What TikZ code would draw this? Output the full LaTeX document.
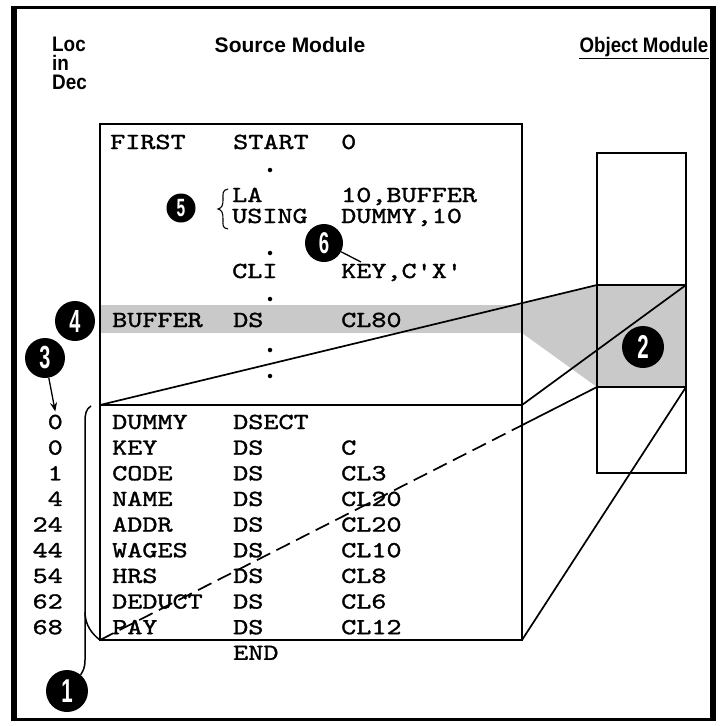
\documentclass[tikz,border=0pt]{standalone}
\usepackage{fontspec}
\setmainfont{Liberation Sans}
\setmonofont[FakeBold=1.2]{lmmono10-regular.otf}
\usepackage{graphicx}
\usetikzlibrary{arrows.meta}
\newcommand{\mt}[1]{\scalebox{1.25}[1]{\fontsize{23}{23}\selectfont\ttfamily #1}}
\newcommand{\cdig}[2]{\scalebox{0.62}[1]{\fontsize{#2}{#2}\selectfont\bfseries #1}}
\newcommand{\hd}[1]{\scalebox{0.9}[1]{#1}}
\begin{document}
\begin{tikzpicture}[x=1pt,y=-1pt,
  code/.style={anchor=base west, inner sep=0pt},
  num/.style={anchor=base east, inner sep=0pt},
  hdr/.style={inner sep=0pt, font=\fontsize{21}{18.5}\selectfont\bfseries},
  circ/.style={circle, fill=black, text=white, inner sep=0pt, minimum size=#1},
  dotn/.style={circle, fill=black, inner sep=0pt, minimum size=4.5pt},
  shade/.style={fill=black!21},
  boxline/.style={line width=2.6pt},
  conn/.style={line width=1.7pt},
  thinl/.style={line width=1.3pt}]
\useasboundingbox (0,0) rectangle (724,726);
\fill[white] (0,0) rectangle (724,726);

% key coordinates
\coordinate (sTL) at (100,124);
\coordinate (sdivL) at (100,405);
\coordinate (sdivR) at (522,405);
\coordinate (sBL) at (100,640);
\coordinate (sBR) at (522,640);
\coordinate (oTL) at (597,153);
\coordinate (oBR) at (686,473);
\coordinate (oShTL) at (597,285);
\coordinate (oShTR) at (686,285);
\coordinate (oShBL) at (597,387);
\coordinate (oShBR) at (686,387);
\coordinate (dx) at (522,425.2);

% shading
\fill[shade] (100,305) rectangle (522,333);
\fill[shade] (522,303) -- (oShTL) -- (oShBL) -- (522,333) -- cycle;
\fill[shade] (oShTL) rectangle (oShBR);

% frame
\draw[line width=3pt] (14,7) rectangle (713,719);
\draw[line width=6pt] (14,5.5) -- (14,720.5);
\draw[line width=6pt] (713,5.5) -- (713,720.5);

% headers
\node[hdr, anchor=base west] (loc) at (52,51) {\hd{Loc}};
\node[hdr, anchor=base west] (in) at (52,70) {\hd{in}};
\node[hdr, anchor=base west] (dec) at (52,89) {\hd{Dec}};
\node[hdr, anchor=base] (src) at (290,52) {Source Module};
\node[hdr, anchor=base] (obj) at (644,52) {\scalebox{0.89}[1]{Object Module}};
\draw[line width=1.3pt] ([yshift=-2pt]obj.south west) -- ([yshift=-2pt]obj.south east);

% upper source text
\node[code] (first) at (110,149) {\mt{FIRST}};
\node[code] (start) at (233,149) {\mt{START}};
\node[code] (zero) at (341,149) {\mt{0}};
\node[code] (la) at (232,202) {\mt{LA}};
\node[code] (laop) at (341,202) {\mt{10,BUFFER}};
\node[code] (using) at (232,223) {\mt{USING}};
\node[code] (usop) at (341,223) {\mt{DUMMY,10}};
\node[code] (cli) at (232,278) {\mt{CLI}};
\node[code] (cliop) at (341,278) {\mt{KEY,C\textquotesingle X\textquotesingle}};
\node[code] (buf) at (112,327) {\mt{BUFFER}};
\node[code] (bufds) at (233,327) {\mt{DS}};
\node[code] (bufop) at (341,327) {\mt{CL80}};

\node[dotn] (d1) at (270,170) {};
\node[dotn] (d2) at (270,253) {};
\node[dotn] (d3) at (270,299) {};
\node[dotn] (d4) at (270,350) {};
\node[dotn] (d5) at (270,376) {};

% lower source text
\node[code] (r0a) at (112,429) {\mt{DUMMY}};
\node[code] (r0b) at (233,429) {\mt{DSECT}};
\node[code] (r1a) at (112,454.65) {\mt{KEY}};
\node[code] (r1b) at (233,454.65) {\mt{DS}};
\node[code] (r1c) at (341,454.65) {\mt{C}};
\node[code] (r2a) at (112,480.3) {\mt{CODE}};
\node[code] (r2b) at (233,480.3) {\mt{DS}};
\node[code] (r2c) at (341,480.3) {\mt{CL3}};
\node[code] (r3a) at (112,505.95) {\mt{NAME}};
\node[code] (r3b) at (233,505.95) {\mt{DS}};
\node[code] (r3c) at (341,505.95) {\mt{CL20}};
\node[code] (r4a) at (112,531.6) {\mt{ADDR}};
\node[code] (r4b) at (233,531.6) {\mt{DS}};
\node[code] (r4c) at (341,531.6) {\mt{CL20}};
\node[code] (r5a) at (112,557.25) {\mt{WAGES}};
\node[code] (r5b) at (233,557.25) {\mt{DS}};
\node[code] (r5c) at (341,557.25) {\mt{CL10}};
\node[code] (r6a) at (112,582.9) {\mt{HRS}};
\node[code] (r6b) at (233,582.9) {\mt{DS}};
\node[code] (r6c) at (341,582.9) {\mt{CL8}};
\node[code] (r7a) at (112,608.55) {\mt{DEDUCT}};
\node[code] (r7b) at (233,608.55) {\mt{DS}};
\node[code] (r7c) at (341,608.55) {\mt{CL6}};
\node[code] (r8a) at (112,634.2) {\mt{PAY}};
\node[code] (r8b) at (233,634.2) {\mt{DS}};
\node[code] (r8c) at (341,634.2) {\mt{CL12}};
\node[code] (endn) at (233,659.85) {\mt{END}};

% loc numbers
\node[num] (l0) at (63,429) {\mt{0}};
\node[num] (l1) at (63,454.65) {\mt{0}};
\node[num] (l2) at (63,480.3) {\mt{1}};
\node[num] (l3) at (63,505.95) {\mt{4}};
\node[num] (l4) at (63,531.6) {\mt{24}};
\node[num] (l5) at (63,557.25) {\mt{44}};
\node[num] (l6) at (63,582.9) {\mt{54}};
\node[num] (l7) at (63,608.55) {\mt{62}};
\node[num] (l8) at (63,634.2) {\mt{68}};

% boxes
\draw[boxline] (sTL) rectangle (sBR);
\draw[boxline] (sdivL) -- (sdivR);
\draw[boxline] (oTL) rectangle (oBR);
\draw[boxline] (oShTL) -- (oShTR);
\draw[boxline] (oShBL) -- (oShBR);

% connectors
\draw[conn] (sdivL) -- (oShTL);
\draw[conn] (sdivR) -- (oShTR);
\draw[conn, dash pattern=on 15pt off 7pt] (sBL) -- (dx);
\draw[conn] (dx) -- (oShBL);
\draw[conn] (sBR) -- (oShBR);

% callout circles
\node[circ=42pt] (c1) at (67,691) {\cdig{1}{33}};
\node[circ=42pt] (c2) at (643,347) {\cdig{2}{33}};
\node[circ=40pt] (c3) at (45,358) {\cdig{3}{32}};
\node[circ=40pt] (c4) at (75,321) {\cdig{4}{32}};
\node[circ=29pt] (c5) at (181,208) {\cdig{5}{25}};
\node[circ=38pt] (c6) at (324,243) {\cdig{6}{30}};

% brace for 5
\draw[line width=1.1pt] (228,189) .. controls (222,190) and (223,194) .. (223,200)
  .. controls (223,205) and (222,208) .. (218,209)
  .. controls (222,210) and (223,213) .. (223,219)
  .. controls (223,225) and (222,228) .. (228,229);

% leader 6
\coordinate (k6) at (361,262);
\draw[thinl] (c6) -- (k6);

% arrow 3
\draw[thinl, -{Stealth[length=9pt,width=7pt]}] (c3) -- ([yshift=3pt]l0.north);

% bracket and leader 1
\coordinate (bk) at (85,612);
\draw[line width=1.5pt] (91,406) .. controls (86,409) and (85,414) .. (85,422) -- (bk)
  .. controls (85,625) and (92,634) .. (sBL);
\draw[line width=1.5pt] (bk) -- (85,660) .. controls (85,668) and (83,671) .. (c1.50);
\end{tikzpicture}
\end{document}
